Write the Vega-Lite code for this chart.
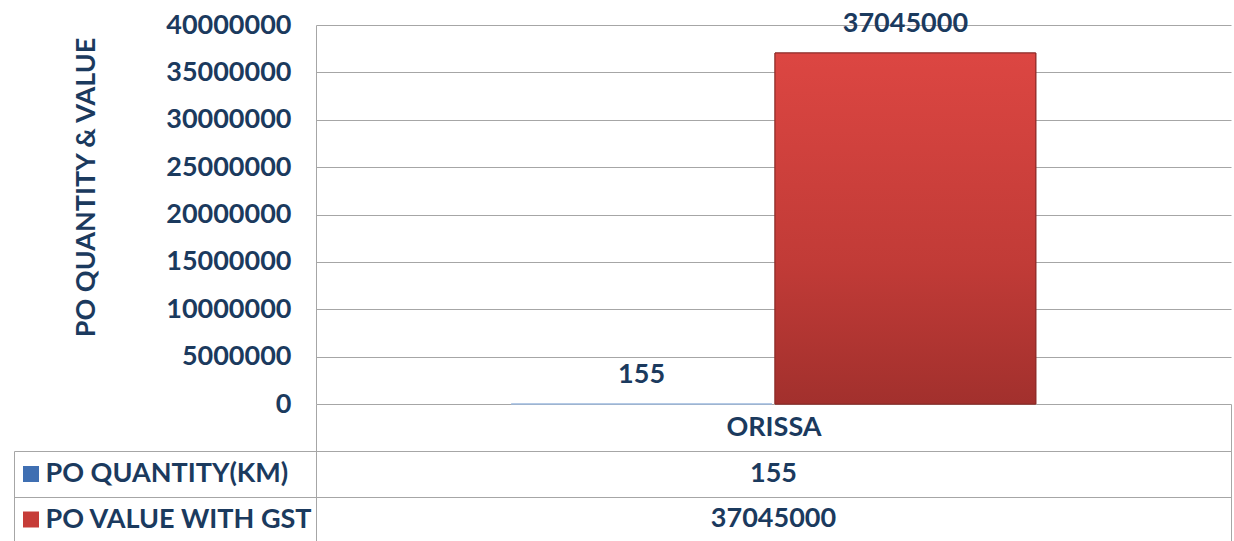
{
  "$schema": "https://vega.github.io/schema/vega-lite/v6.json",
  "padding": {"left": 13, "top": 9, "right": 0, "bottom": 0},
  "background": "white",
  "datasets": {
    "po": [
      {"region": "ORISSA", "series": "PO QUANTITY(KM)", "value": 155},
      {"region": "ORISSA", "series": "PO VALUE WITH GST", "value": 37045000}
    ]
  },
  "data": {"name": "po"},
  "bounds": "flush",
  "spacing": 47,
  "config": {"view": {"stroke": null}},
  "vconcat": [
    {
      "width": 915,
      "height": 379,
      "layer": [
        {
          "mark": {"type": "bar", "strokeWidth": 1},
          "encoding": {
            "x": {"field": "region", "type": "nominal", "axis": null, "scale": {"paddingInner": 0, "paddingOuter": 0}},
            "xOffset": {"field": "series", "type": "nominal", "scale": {"paddingInner": 0.0114, "paddingOuter": 0.74}},
            "y": {
              "field": "value", "type": "quantitative",
              "scale": {"domain": [0, 40000000], "nice": false},
              "axis": {
                "values": [0, 5000000, 10000000, 15000000, 20000000, 25000000, 30000000, 35000000, 40000000],
                "format": "d",
                "ticks": false,
                "labelPadding": 25,
                "labelFont": "Lato", "labelFontSize": 27, "labelFontWeight": "bold", "labelColor": "#1B3A5E",
                "domain": true, "domainColor": "#A6A6A6",
                "grid": true, "gridColor": "#A6A6A6",
                "title": "PO  QUANTITY & VALUE",
                "titleFont": "Lato", "titleFontSize": 27, "titleFontWeight": "bold", "titleColor": "#1B3A5E",
                "titlePadding": 65, "titleY": 162
              }
            },
            "color": {
              "field": "series", "type": "nominal",
              "scale": {
                "domain": ["PO QUANTITY(KM)", "PO VALUE WITH GST"],
                "range": ["#3F6FB2", "#C63C38"]
              },
              "legend": {
                "orient": "none", "legendX": -293, "legendY": 441,
                "title": null, "symbolType": "square", "symbolSize": 256,
                "symbolStrokeWidth": 0, "labelExpr": "''", "labelFontSize": 1,
                "rowPadding": 29.5, "padding": 0
              }
            },
            "stroke": {
              "field": "series", "type": "nominal",
              "scale": {"domain": ["PO QUANTITY(KM)", "PO VALUE WITH GST"], "range": ["#9DB9DE", "#8E2B28"]},
              "legend": null
            }
          }
        },
        {
          "transform": [{"filter": "datum.series === 'PO VALUE WITH GST'"}],
          "mark": {
            "type": "bar", "strokeWidth": 1, "stroke": "#8A2A27",
            "color": {"gradient": "linear", "x1": 0, "y1": 0, "x2": 0, "y2": 1,
              "stops": [{"offset": 0, "color": "#DC4642"}, {"offset": 0.6, "color": "#C13B37"}, {"offset": 1, "color": "#A2302D"}]}
          },
          "encoding": {
            "x": {"field": "region", "type": "nominal", "axis": null},
            "xOffset": {"field": "series", "type": "nominal"},
            "y": {"field": "value", "type": "quantitative"}
          }
        },
        {
          "mark": {"type": "text", "baseline": "middle", "dy": -29, "font": "Lato", "fontWeight": "bold", "fontSize": 27, "color": "#1B3A5E"},
          "encoding": {
            "x": {"field": "region", "type": "nominal", "axis": null},
            "xOffset": {"field": "series", "type": "nominal"},
            "y": {"field": "value", "type": "quantitative"},
            "text": {"field": "value", "type": "quantitative", "format": "d"}
          }
        }
      ]
    },
    {
      "width": 915,
      "height": 91,
      "view": {"stroke": "#A6A6A6"},
      "resolve": {"axis": {"y": "independent"}},
      "layer": [
        {
          "mark": {"type": "text", "font": "Lato", "fontWeight": "bold", "fontSize": 27, "color": "#1B3A5E", "baseline": "middle"},
          "encoding": {
            "x": {
              "field": "region", "type": "nominal",
              "scale": {"paddingInner": 0, "paddingOuter": 0},
              "axis": {
                "orient": "top", "title": null, "tickBand": "extent", "tickSize": 47,
                "tickColor": "#A6A6A6", "domainColor": "#A6A6A6", "labelAngle": 0,
                "labelPadding": -37, "labelFont": "Lato", "labelFontSize": 27, "labelFontWeight": "bold", "labelColor": "#1B3A5E",
                "grid": true, "gridColor": "#A6A6A6"
              }
            },
            "y": {
              "field": "series", "type": "nominal",
              "scale": {"paddingInner": 0, "paddingOuter": 0},
              "axis": {
                "title": null, "tickBand": "extent", "tickSize": 302, "tickColor": "#A6A6A6",
                "domainColor": "#A6A6A6", "labelAlign": "left", "labelPadding": -31, "labelLimit": 400,
                "labelFont": "Lato", "labelFontSize": 27, "labelFontWeight": "bold", "labelColor": "#1B3A5E",
                "grid": true, "gridColor": "#A6A6A6"
              }
            },
            "text": {"field": "value", "type": "quantitative", "format": "d"}
          }
        },
        {
          "mark": {"type": "text", "opacity": 0},
          "encoding": {
            "x": {"field": "region", "type": "nominal"},
            "y": {
              "field": "series", "type": "nominal",
              "axis": {
                "orient": "left", "offset": 302, "title": null, "labels": false, "ticks": false,
                "grid": false, "domain": true, "domainColor": "#A6A6A6"
              }
            },
            "text": {"field": "value", "type": "quantitative", "format": "d"}
          }
        }
      ]
    }
  ]
}
